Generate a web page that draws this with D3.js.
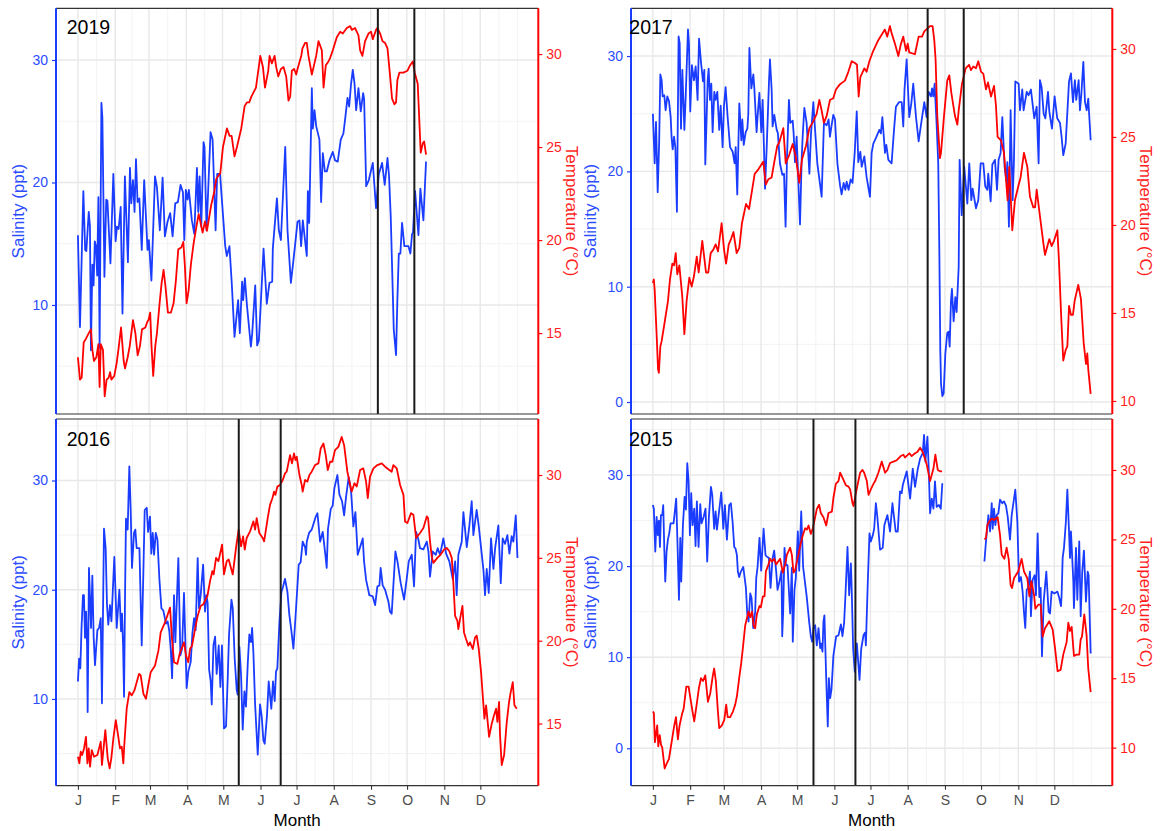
<!DOCTYPE html>
<html>
<head>
<meta charset="utf-8">
<script src="https://cdn.jsdelivr.net/npm/d3@7"></script>
<style>
  body { margin: 0; background: #fff; }
  text { font-family: "Liberation Sans", Arial, Helvetica, sans-serif; }
</style>
</head>
<body>
<svg id="chart" width="1161" height="831"></svg>
<script>
// ---- data: [day of year (0 = Jan 1), value]; null marks a logging gap ----
const monthLabels = ["J","F","M","A","M","J","J","A","S","O","N","D"];
const salinityTicks = [0, 10, 20, 30];
const temperatureTicks = [10, 15, 20, 25, 30];

const sal2019 = [[0,15.7],[1.7,8.2],[4.5,19.3],[6,14.5],[7,14.4],[9,17.6],[10,16.4],[10.8,6.3],[12,13.3],[13,11.6],[14,15.2],[15,14.8],[16,12.4],[17,18.8],[18,6.5],[19.5,26.5],[20.3,25.3],[22,12.3],[23.5,18.6],[24.5,18.5],[27,13.4],[29.4,20.7],[31.3,15.2],[32.4,16.4],[33.8,16.2],[35.5,18.0],[37,9.3],[39,20.5],[41.5,13.5],[43.2,21.2],[44.3,18.3],[45.7,20.2],[47,17.6],[48.2,21.9],[49.5,18.4],[51,18.7],[53,14.5],[55,20.2],[57.8,14.5],[58.9,15.3],[61,12.0],[64,20.5],[65.6,19.6],[68,16.1],[70.3,20.4],[72.2,15.6],[74.4,16.8],[76.6,17.5],[78.6,15.6],[80.8,18.3],[83,18.4],[85.2,19.8],[87.2,19.2],[88.3,15.3],[89.6,19.4],[91,18.6],[92.1,19.4],[94.6,16.9],[96.6,15.8],[98.8,21.2],[99.9,17.6],[101,20.5],[102.4,16.4],[104.3,23.3],[105.1,22.9],[106.8,16.1],[110.1,24.1],[111.8,23.5],[114.3,16.1],[115.6,20.7],[118,20.7],[119.5,18.6],[122.3,14.8],[123.6,14.0],[125.8,14.8],[127.7,11.8],[130,7.4],[133,10.4],[134.4,7.7],[136.3,11.9],[137.2,10.4],[138.6,12.2],[140.3,10.0],[143.6,6.6],[144.7,7.7],[147.2,11.6],[148.8,6.7],[150.2,7.1],[151.6,9.7],[154.1,14.6],[156.8,10.1],[159,11.8],[161.3,11.9],[161.8,14.6],[165.2,18.7],[166.8,16.1],[168.5,15.3],[172.1,22.9],[174,16.1],[176.8,11.8],[178.4,13.2],[180.3,14.9],[182.3,16.8],[183.9,16.9],[185.3,14.8],[186.7,16.9],[190,14.0],[190.9,19.3],[192,16.7],[194.2,27.7],[195,24.4],[196.4,25.9],[197.8,24.6],[200.5,23.5],[201.9,18.4],[203.3,22.4],[205,20.9],[206.6,20.9],[208.8,21.8],[211.6,22.5],[213.5,21.8],[215.7,21.7],[218.2,23.5],[220.4,24.0],[222.1,25.4],[223.8,26.9],[225.2,26.2],[226.8,28.1],[228.2,29.2],[229.6,28.1],[231,25.9],[232.9,27.7],[234.8,25.8],[236.8,27.3],[237.6,26.8],[239.3,19.7],[241.5,20.2],[244.8,21.6],[245.9,20.1],[247.5,17.9],[249.8,20.7],[252.5,21.6],[254.7,19.8],[257,22.0],[258.3,20.5],[259.7,17.2],[262.2,8.0],[264.1,5.9],[265.2,10.4],[266.4,14.2],[267.7,14.2],[269.1,16.7],[271,14.8],[274.4,14.8],[276,14.2],[277.4,15.8],[278.2,15.9],[279.9,19.3],[282.7,15.7],[284.3,19.5],[286.8,16.9],[289,21.7]];

const temp2019 = [[0,13.7],[1.7,12.5],[3.1,12.6],[4.8,14.5],[6.7,14.7],[9,15.0],[10.8,15.2],[12,14.1],[13.3,13.5],[15.3,13.7],[17,14.4],[18,12.1],[19,14.4],[20.8,14.1],[22.2,11.6],[23.8,12.5],[25.5,12.6],[26.7,12.9],[27.8,12.5],[30.2,12.7],[32.2,13.4],[33.8,14.2],[35.8,15.3],[38,13.5],[39.1,13.1],[41.3,13.7],[43,14.3],[45.7,15.7],[47.7,15.0],[49.6,13.8],[51.5,14.3],[53.2,15.2],[56,15.3],[57.5,15.6],[58.6,15.7],[60,16.1],[61.1,14.3],[62.5,12.7],[64.2,14.3],[65.6,15.0],[67.8,16.6],[69.5,17.7],[71.1,18.4],[72.7,17.5],[74.7,16.1],[77.2,16.1],[79.4,16.6],[81.3,17.8],[83.3,19.5],[85.8,19.6],[87.5,19.9],[88.8,18.6],[90.2,16.6],[91.9,17.3],[93.8,18.7],[96,19.8],[98.3,20.7],[100.2,21.4],[101.6,21.0],[103.5,20.4],[105.5,21.0],[107.1,20.5],[110.7,21.9],[113.2,22.6],[114.9,23.3],[118.2,23.6],[120.4,25.0],[123.7,26.0],[125.9,25.6],[127.6,25.6],[130,24.5],[132,25.0],[135.6,26.0],[138.4,27.2],[140.3,27.4],[142.2,27.4],[143.9,27.7],[147.8,28.2],[151.4,29.9],[153.6,29.3],[155.3,28.2],[158,29.1],[159.1,29.9],[161,29.5],[163.3,29.9],[164.6,29.3],[166.3,28.8],[168.5,29.2],[170.7,29.3],[172.9,28.8],[174.8,27.5],[176.2,27.7],[177.6,29.1],[179.5,29.2],[181.2,28.9],[182.3,29.2],[184.5,29.7],[185.4,29.9],[186.4,30.3],[188.6,30.6],[190,30.6],[191.4,29.9],[194.2,28.9],[197.8,29.9],[199.7,30.7],[202.5,30.2],[203.9,28.2],[205.8,29.4],[208,29.6],[209.4,29.8],[211.6,30.2],[214.9,30.9],[217.7,31.2],[219.9,31.1],[223.2,31.4],[226,31.5],[227.4,31.3],[230.1,31.4],[232.9,31.0],[234.3,30.2],[236.2,29.9],[238.4,30.7],[241.2,31.1],[243.4,31.2],[244.8,30.8],[247.5,31.3],[248.6,31.4],[250.9,31.1],[252.8,30.7],[255,30.6],[257,30.3],[258.9,29.0],[260.8,27.6],[262.8,27.3],[264.1,27.4],[265.2,28.6],[266.9,29.0],[270.2,29.0],[273.5,29.1],[275.8,29.4],[278,29.6],[279.6,29.0],[282.1,28.4],[283.5,26.3],[284.6,24.7],[286.3,25.2],[287.4,25.3],[289,24.6]];

const sal2017 = [[0,25.0],[1.5,20.7],[2.6,24.3],[3.5,20.4],[4,18.2],[5.2,22.4],[6.2,28.4],[7.3,27.9],[8.1,26.5],[9.5,26.6],[10.6,25.3],[12,26.5],[13.4,26.1],[14.8,24.7],[15.6,22.9],[16.5,21.9],[17.6,23.0],[18.7,22.1],[20,16.5],[21.4,31.7],[22.3,31.1],[23.4,23.7],[24.5,28.8],[26.2,23.6],[27.3,26.5],[29.2,32.3],[30,31.1],[31.1,25.2],[32.5,29.2],[34.2,27.9],[35.6,29.1],[37.2,26.2],[38.4,31.5],[40,29.5],[41.7,27.8],[42.8,28.8],[43.6,20.6],[45.6,27.9],[46.4,28.9],[47.5,26.2],[48.6,27.6],[49.7,23.4],[51.1,26.9],[52.2,26.2],[53.6,26.9],[55.2,23.6],[56.4,25.7],[58,22.1],[59.1,25.6],[60.5,27.3],[62.2,24.7],[64.2,22.1],[66.4,21.7],[68,20.7],[68.9,22.1],[70.2,18.0],[71.9,25.9],[73.6,22.7],[74.4,24.5],[75.6,22.3],[77.2,23.4],[78.6,23.7],[79.4,25.0],[80.3,30.7],[81.9,27.2],[83.6,28.4],[84.4,27.2],[86.3,23.4],[87.2,24.9],[88.6,26.8],[90.2,23.4],[91.3,26.2],[92.4,22.1],[93.3,18.5],[94.7,22.1],[96.6,27.8],[97.4,29.7],[98.8,27.1],[99.6,23.9],[101,24.9],[103,23.6],[104,23.3],[105.7,20.7],[107.7,19.7],[109.1,19.8],[110.4,15.2],[111.6,21.3],[113.2,26.2],[114.3,24.2],[116.3,24.4],[117.1,23.3],[118.2,20.8],[119.6,23.0],[122.4,15.4],[123.8,21.1],[124.6,23.0],[126,25.5],[127.9,24.2],[130.2,19.8],[131.5,23.2],[133.5,26.0],[134.3,24.6],[136.8,20.7],[140.4,17.8],[142.3,24.2],[144.6,24.0],[146.2,24.5],[147.3,23.0],[148.7,24.0],[150.1,24.9],[151.5,24.5],[153.5,20.7],[155.7,18.8],[157,18.0],[158.7,19.0],[160.1,18.4],[161.2,19.1],[162.8,18.4],[164.5,19.3],[166.1,19.0],[167.9,21.6],[169.6,25.2],[170.9,20.8],[172.6,21.7],[173.7,20.4],[175.9,21.3],[177.8,19.5],[180.6,17.8],[182,21.6],[183.4,22.4],[185.6,22.9],[188.4,23.6],[189.7,23.3],[190.9,24.7],[193.1,21.6],[194.2,22.3],[195.9,21.0],[198.6,20.7],[200.6,23.6],[202.2,25.6],[204.7,26.0],[207,26.0],[208.3,23.9],[209.4,27.2],[211.1,29.7],[213.3,24.7],[215,25.9],[216.6,27.6],[218.9,24.7],[221.1,22.6],[223,24.0],[225.8,26.0],[227.7,24.7],[229.4,26.9],[231.4,26.5],[232.2,27.2],[233.3,26.5],[234.4,27.6],[236,24.2],[237.4,20.7],[238.3,13.2],[239.1,4.5],[239.7,1.6],[240.8,0.5],[241.9,0.75],[243.3,4.2],[244.9,6.0],[246,6.1],[246.9,4.8],[248,8.8],[248.8,9.8],[250.2,7.0],[251.6,9.1],[252.7,7.8],[254.4,11.7],[255.2,21.0],[256.9,16.2],[259,20.4],[261.6,17.2],[263.2,20.7],[264.9,17.5],[266,18.5],[268.8,16.8],[270.7,17.5],[272.7,20.7],[274.9,20.7],[276.5,18.7],[278.2,18.4],[279,19.8],[281,17.4],[282.4,20.6],[284.6,21.0],[286.3,18.4],[287.6,21.0],[289.3,21.6],[290.7,24.7],[292.6,20.4],[294,19.2],[294.9,20.8],[296.2,15.2],[297.6,25.3],[299.3,17.5],[300.4,21.0],[301.5,27.8],[304.3,27.6],[305.4,25.3],[307.3,27.1],[308.4,25.3],[311,26.9],[312.6,26.6],[314.5,27.1],[317.3,24.6],[319.3,25.6],[320.9,20.7],[322,27.9],[323.4,27.3],[325.1,25.0],[326.5,24.6],[328.7,26.9],[329.8,25.2],[332,23.7],[334.2,26.5],[336.4,24.6],[338.7,24.2],[340,23.0],[341.4,21.4],[343.4,22.4],[346.2,27.8],[347.8,28.5],[349.5,26.0],[351.1,27.9],[352.2,26.2],[354.2,27.9],[355.3,25.3],[356.4,26.6],[358.1,29.5],[359.5,26.0],[360.9,25.3],[362.2,26.3],[364.2,22.7]];

const temp2017 = [[0,16.7],[0.8,16.9],[1.5,16.3],[3.1,13.8],[4.3,11.8],[5,11.6],[6.2,13.1],[7.3,13.4],[10.1,14.6],[12.6,15.7],[14.2,16.9],[16.2,17.8],[17.6,17.7],[19,18.4],[20.3,17.2],[22,17.7],[24.5,15.9],[26.2,13.8],[28.1,15.7],[30.3,17.0],[32.3,16.5],[34.2,17.1],[36.5,18.2],[38.1,17.3],[41.1,19.1],[44.2,17.3],[46.1,17.3],[48.1,18.4],[50.3,18.6],[52.2,18.9],[54.2,18.5],[57.2,20.1],[59.2,18.6],[60.9,17.8],[63.1,18.9],[65,19.2],[67,19.6],[69.7,18.4],[71.9,18.7],[74.1,20.1],[77.5,21.2],[80,20.9],[84.7,22.9],[87.1,23.1],[91.9,23.6],[93.9,22.3],[96.1,22.6],[98.8,22.7],[100.8,23.5],[103.5,24.5],[105.2,24.7],[108.5,25.5],[110.5,23.5],[113.5,24.0],[116.3,24.6],[118.8,23.9],[121.8,22.4],[124,23.7],[127.4,24.5],[130.2,25.5],[133.5,25.9],[136.2,26.3],[138.5,27.1],[140.4,26.5],[142.3,25.8],[144.6,26.2],[147.3,27.1],[150.1,27.2],[152.3,27.7],[155.7,28.0],[159.8,28.2],[162.6,28.7],[165.4,29.3],[168.1,29.2],[169.8,29.1],[171.2,27.3],[172.6,28.4],[175.9,28.9],[177.8,28.7],[180.1,29.3],[182.8,29.8],[184.8,30.1],[187.5,30.5],[193,31.1],[195,30.7],[197.2,31.3],[198.6,30.9],[201.4,30.3],[204.2,29.6],[206.4,30.3],[208.3,30.7],[210.6,29.9],[212,30.3],[213.3,29.8],[218,29.7],[221.1,30.7],[223.9,30.7],[225.8,31.0],[230.5,31.3],[232.7,31.3],[234.1,30.5],[235.2,29.4],[236.6,26.2],[238.8,23.8],[239.7,24.1],[242.2,26.2],[244.9,28.2],[246.6,28.5],[248.3,27.5],[251.3,26.2],[253.3,25.7],[254.4,26.5],[257.1,28.0],[260.2,28.9],[263,29.1],[264.6,28.8],[266.6,29.0],[268.8,28.9],[270.7,29.3],[273,28.7],[274.9,28.6],[277.1,27.7],[278.8,28.1],[281.3,27.3],[283.8,27.9],[285.4,26.8],[286.8,25.0],[289.6,24.8],[292.1,24.1],[295.1,21.4],[296.5,23.3],[299,19.7],[301.2,21.4],[304,22.2],[305.9,22.7],[308.7,24.1],[311.5,23.3],[313.7,21.6],[316.5,21.0],[317.9,21.0],[319.3,22.0],[322,20.5],[324.8,19.0],[326.2,18.3],[329.8,19.2],[331.7,18.8],[333.7,19.1],[336.5,19.7],[337.8,18.0],[339.8,14.6],[341.4,12.3],[343.4,12.9],[344.8,13.1],[346.2,15.4],[347.8,14.9],[349.5,14.9],[350.9,15.7],[353.9,16.6],[356.1,15.8],[358.4,13.3],[360.3,12.1],[361.4,12.7],[362.2,11.8],[364.2,10.4]];

const sal2016 = [[0,11.6],[1,13.7],[2,12.8],[3,16.5],[4.2,19.5],[5,19.5],[5.9,15.6],[6.8,18.0],[7.6,14.9],[8.1,8.8],[9.2,22.0],[10.9,16.5],[12,21.3],[13.1,15.7],[14.2,13.1],[16.2,16.3],[17.6,16.5],[19,17.4],[20,9.6],[21.7,25.6],[23.1,23.8],[24.2,18.6],[25.3,16.8],[26.7,18.6],[27.9,17.1],[30.3,23.0],[32.3,16.5],[34.5,20.0],[35.9,16.2],[36.7,17.8],[37.6,14.9],[38.4,10.2],[39.2,19.2],[40,26.5],[41.4,25.5],[42.8,31.3],[43.9,27.4],[45,22.0],[46.7,25.2],[47.8,25.5],[48.9,23.8],[51.2,23.8],[53.1,14.9],[54.5,21.7],[55.6,27.3],[57.3,27.5],[58.4,25.3],[60,26.7],[61.1,23.3],[62.3,25.2],[63.4,23.2],[64.8,25.2],[66.2,24.6],[67.8,21.0],[69.5,18.3],[71.1,18.1],[73.3,16.9],[74.7,17.1],[76.1,16.2],[77.3,14.5],[78.4,11.9],[80,19.5],[81.1,15.2],[83.6,22.9],[85.3,14.0],[86.7,14.6],[88.3,19.7],[90.5,11.0],[91.9,12.5],[93.9,13.4],[95.3,16.0],[96.7,17.4],[98,16.3],[99.7,22.9],[100.8,18.3],[102.2,19.5],[104.2,22.3],[105.8,18.0],[106.9,19.5],[108,18.8],[109.2,12.7],[110.5,11.6],[111.4,9.5],[112.8,14.9],[114.2,15.7],[115.5,12.3],[117.2,14.9],[118.6,11.1],[119.9,14.9],[121.6,7.3],[123.3,7.5],[124.7,11.9],[125.8,15.9],[127.8,19.1],[128.9,18.3],[130.5,13.7],[132.2,10.8],[133,10.4],[134.4,14.8],[135.8,12.2],[137.2,7.2],[138.6,10.7],[139.9,9.3],[141.4,13.3],[142.7,15.9],[144.1,15.2],[145,16.5],[146.1,14.2],[147.5,9.5],[149.7,4.9],[151.6,9.5],[153,8.4],[154.4,6.2],[155.5,5.9],[157.4,8.5],[158.8,11.6],[159.9,10.4],[161,9.1],[162.4,11.6],[163.8,9.8],[164.9,12.5],[166,12.8],[167.7,16.9],[169.4,19.8],[170.8,20.3],[172.4,21.0],[174.4,19.8],[176,17.7],[177.4,16.5],[179.4,14.6],[181.6,18.3],[183.8,22.3],[185.4,22.5],[187.1,24.4],[189.1,23.9],[189.9,23.2],[190.5,24.4],[192.4,25.2],[194.6,25.5],[198,26.7],[199.4,27.0],[201.6,24.4],[203.8,25.3],[206,23.2],[207.1,22.0],[208.2,25.6],[210.5,27.4],[212.1,27.7],[213.5,29.3],[216,30.5],[217.7,28.7],[219.9,28.1],[221.6,26.8],[223.2,28.5],[225.4,30.3],[227.4,29.0],[229.3,25.8],[231,27.1],[232.9,23.2],[234.9,23.9],[237.1,24.7],[238.2,22.6],[239.9,20.9],[242.6,19.5],[245.4,19.4],[247.4,18.6],[249.3,20.3],[251,20.4],[252,22.0],[253.7,20.4],[255.7,20.0],[258.5,18.9],[259.8,18.0],[261.2,17.8],[262.6,20.4],[264.3,23.5],[266,22.6],[268.7,20.6],[271.5,19.1],[273.7,21.0],[275.4,22.6],[277.9,23.2],[279.8,20.3],[281.5,25.3],[283.4,24.6],[284.8,23.8],[287.6,23.7],[290.4,24.4],[291.8,23.5],[293.1,21.2],[295.4,23.5],[297.9,23.2],[299.5,23.8],[301.5,23.2],[304.2,24.7],[306.5,23.3],[309.2,22.6],[312,21.0],[314,22.6],[315.3,19.5],[316.7,23.2],[319.5,24.4],[320.9,27.1],[323.7,23.9],[325.9,25.9],[327.8,28.1],[329.2,25.0],[331.9,27.3],[333.7,25.8],[337.6,21.8],[338.9,19.5],[340.3,21.9],[342,19.7],[343.9,24.7],[345.9,21.9],[347.3,23.8],[350,25.9],[352,20.6],[353.6,24.7],[355.6,24.2],[357.5,25.0],[359.2,23.3],[361.1,24.9],[362.5,24.4],[364.5,26.8],[365.9,22.9]];

const temp2016 = [[0,13.0],[1.2,12.6],[2.3,13.3],[3.5,13.1],[5.1,13.5],[6.7,14.2],[7.9,12.6],[9,13.5],[10.1,12.4],[11.5,13.4],[13.4,13.0],[16.2,13.1],[19,13.9],[20,12.5],[22.8,14.6],[24.8,12.9],[26.4,12.3],[27.8,12.9],[29.5,14.1],[31.5,15.2],[33.4,14.3],[35,13.5],[36.5,13.6],[37.8,12.6],[38.6,13.7],[40.6,15.9],[42.8,16.9],[44.8,16.7],[47,17.0],[50.9,18.0],[52.3,17.9],[54.5,16.8],[56.7,16.5],[59,17.5],[60.6,18.1],[64.2,18.5],[67,19.4],[68.9,20.5],[72.5,21.1],[73.9,21.4],[76.7,22.0],[78.1,20.3],[80,18.7],[82.8,18.6],[85,19.3],[86.7,19.6],[88.3,19.9],[90,19.1],[91.9,18.7],[93.3,19.5],[95,19.7],[97.5,20.7],[99.7,21.5],[102.2,22.1],[104.4,22.2],[107.8,22.7],[110,23.6],[111.9,24.2],[113,24.0],[115,25.0],[117,24.8],[120,25.8],[121.6,24.0],[123.9,24.8],[125.5,24.9],[128.9,24.0],[131.6,25.6],[133.8,26.7],[135.8,25.7],[137.5,26.3],[138.9,25.5],[140.5,26.2],[143.3,26.6],[146.1,27.2],[147.5,26.7],[148.8,27.4],[151,26.5],[153.8,26.2],[155,26.0],[158,27.4],[159.9,28.2],[161.9,28.6],[163.3,29.0],[164.4,28.8],[166,29.3],[168.3,29.4],[170.5,29.7],[172.4,30.1],[173.8,30.2],[175.2,30.7],[176.6,31.2],[178.2,30.7],[179.9,31.3],[181.1,30.9],[182.2,31.1],[184.4,30.0],[186.3,29.4],[187.1,29.0],[189.1,29.7],[191,29.6],[192.7,30.0],[194.6,30.2],[197.4,30.6],[200.2,30.7],[202.1,31.6],[204.4,31.9],[206.3,31.2],[208,30.3],[209.9,30.8],[211.8,30.8],[214,31.5],[216.8,31.7],[219.6,32.3],[221.6,31.8],[224.3,30.2],[227.9,29.0],[230.2,29.5],[232.1,29.3],[234.9,30.3],[237.6,30.4],[239.9,29.6],[241.3,28.6],[243.2,29.9],[246,30.4],[249.3,30.6],[252.9,30.7],[255.7,30.5],[259.3,30.3],[261.2,30.2],[262.6,30.6],[265.4,30.4],[268.2,29.4],[271,28.8],[272.3,27.2],[274.3,27.1],[277.3,27.7],[279.3,27.6],[281.5,26.2],[284.8,26.5],[287.6,26.8],[290.4,27.5],[291.5,27.4],[293.1,26.0],[294.5,25.1],[295.9,24.7],[299.2,25.0],[302,25.2],[304.8,25.5],[307,25.6],[309.2,25.4],[311.2,25.0],[312.6,23.4],[314,21.5],[315.9,21.2],[316.7,20.7],[318.1,21.3],[320.1,22.1],[321.4,20.5],[323.1,20.1],[325,19.7],[326.4,19.9],[328.7,19.5],[330.6,20.2],[332,20.3],[333.7,19.5],[335.6,18.1],[338.4,15.3],[339.8,16.1],[342.3,14.2],[344.5,15.0],[346.4,15.5],[348.1,15.9],[349.2,15.1],[350.6,16.3],[351.4,14.3],[352.8,12.5],[354.8,13.1],[357,15.1],[358.9,16.3],[360.3,16.9],[362,17.5],[363.4,16.1],[365.3,15.9]];

const sal2015 = [[0,26.7],[0.8,26.3],[2,21.6],[3.1,25.4],[4.2,23.4],[5,25.0],[5.9,22.1],[6.7,25.6],[7.8,25.6],[8.6,26.7],[9.5,21.9],[10.3,18.3],[11.4,21.6],[12.5,22.9],[13.6,23.6],[14.7,24.7],[17.2,24.7],[19.4,27.4],[20.6,21.9],[21.7,16.3],[22.8,23.1],[23.6,18.3],[25,24.5],[26.4,27.6],[27.5,26.2],[28.6,31.3],[29.7,29.3],[30.8,23.4],[31.9,28.0],[33,24.5],[34.4,26.3],[35.5,22.2],[36.6,27.1],[38,22.1],[39.4,26.8],[40.5,24.7],[42.2,25.4],[43.8,26.3],[45.2,20.5],[46.6,25.4],[48.3,28.7],[49.4,27.8],[51,24.1],[52.2,26.0],[53.3,24.0],[56.9,28.1],[58.6,24.1],[59.9,26.7],[61.6,22.9],[63.5,26.7],[64.9,26.9],[66.3,24.9],[67.7,22.1],[68.8,21.9],[69.9,21.2],[70.7,19.4],[71.8,18.8],[73.2,19.4],[75.2,19.9],[77.4,17.6],[78.5,14.8],[79.6,13.9],[81,17.0],[82.1,16.5],[83.5,13.2],[85.1,15.0],[86,18.7],[87.1,19.9],[88.7,23.1],[90.1,19.5],[92.1,24.1],[93.7,21.2],[95.1,21.0],[96.5,20.9],[97.9,17.6],[99.5,20.8],[100.9,21.7],[102.6,19.4],[103.7,17.4],[105.3,18.3],[107,19.5],[107.6,12.3],[108.4,15.0],[109.5,22.0],[110.6,20.1],[112,20.1],[114.2,14.8],[115.6,19.8],[116.4,11.7],[117.8,17.4],[118.9,18.7],[120.6,23.8],[121.7,19.5],[123.4,26.0],[125,19.9],[128.1,16.5],[130,13.9],[131.4,12.3],[132.5,11.7],[133.6,13.2],[135,13.5],[136.4,11.3],[137.8,13.2],[139.2,11.0],[140,11.5],[141.1,10.6],[141.9,13.9],[142.7,14.6],[144.2,7.7],[145.5,2.4],[146.4,7.7],[147.5,5.5],[148.6,6.5],[150.2,10.2],[152.5,12.3],[154.4,12.4],[156.4,13.6],[157.7,12.3],[159.1,13.8],[160.2,16.8],[161.9,22.1],[163.3,16.8],[164.7,20.3],[165.5,17.0],[166.6,11.0],[168,8.4],[169.7,11.5],[171.9,7.5],[173.3,10.9],[175.2,12.4],[176.6,12.7],[177.2,11.3],[178.8,18.3],[180.2,23.6],[181.3,22.7],[183,23.4],[184.1,24.1],[185.5,26.9],[186.6,25.6],[189,21.8],[191.2,22.0],[192.6,24.5],[195.1,25.6],[197.3,23.8],[199.3,26.9],[202,23.8],[203.7,23.8],[205.6,28.2],[207,28.0],[207.9,28.9],[211.2,30.4],[214,27.4],[216.2,30.7],[218.1,28.7],[220.3,30.6],[222.3,31.8],[224.5,32.4],[225.6,34.4],[226.7,31.5],[228.4,34.2],[229.5,30.6],[230.6,25.8],[232,27.4],[233.4,26.3],[234.7,29.3],[236.1,26.5],[238,26.7],[239.5,26.3],[240.8,29.1],[258,null],[275.8,20.5],[277.1,22.7],[279.1,25.6],[280.5,23.8],[281.9,26.9],[282.7,24.1],[283.8,26.3],[284.9,24.5],[286,25.6],[287.4,25.8],[288.8,27.3],[290.7,26.9],[292.1,27.1],[293.8,26.6],[295.2,25.4],[297.1,22.9],[298.5,25.6],[301.5,28.4],[303.2,24.9],[304.6,18.3],[306.2,18.8],[307.6,17.2],[308.7,15.0],[309.8,13.2],[311,17.4],[312.1,17.6],[313.7,19.4],[314.5,14.5],[315.9,18.5],[317.6,19.0],[318.7,16.8],[320.1,23.6],[321.5,16.6],[322.6,17.6],[323.7,10.1],[325.1,16.1],[327.3,19.4],[329.2,15.0],[330.4,14.8],[331.7,17.2],[334,17.0],[336.5,17.2],[338.1,16.5],[339.5,15.6],[340,16.7],[340.9,20.9],[342,22.0],[343.6,24.9],[344.8,28.4],[346.1,24.1],[347,20.9],[347.8,23.8],[349.8,18.3],[350.3,15.4],[352,22.0],[353.1,16.3],[354.7,22.7],[355.9,14.5],[357.2,19.4],[358.6,21.7],[360.3,16.1],[361.7,19.4],[362.5,19.0],[364.2,10.4]];

const temp2015 = [[0,12.6],[0.8,12.5],[1.7,10.4],[3.6,11.6],[4.5,10.1],[5.7,10.9],[6.8,10.2],[7.8,10.0],[9.8,8.5],[11.2,8.8],[13.4,9.2],[15.6,10.4],[17.8,11.6],[19.2,12.2],[20.8,10.6],[22.2,11.6],[24.2,12.4],[25.6,12.8],[27.8,14.4],[29.7,14.4],[31.7,13.3],[33,12.6],[34.4,11.9],[36.6,13.2],[38.3,14.3],[40,15.0],[41.7,14.8],[43.6,15.2],[45.8,13.3],[47.7,13.9],[49.9,15.2],[51,15.7],[52.4,14.8],[54.1,12.6],[55.2,11.4],[57.4,11.6],[59.4,12.0],[61,13.1],[62.2,12.2],[64.3,12.2],[66.6,12.6],[68.5,13.1],[69.9,13.7],[71.8,15.0],[73.5,16.1],[74.9,17.2],[76.8,18.8],[78.2,19.3],[79.6,19.8],[81,19.4],[82.4,19.8],[83.8,18.8],[85.1,18.6],[86.5,19.6],[88.7,20.2],[89.8,20.1],[91.5,20.9],[92.9,20.9],[94,22.7],[96.2,23.2],[97.6,23.6],[99,23.4],[100.9,23.6],[102.6,23.2],[104.2,23.4],[105.9,23.6],[108.1,22.6],[110.1,23.2],[111.5,23.9],[114.2,24.4],[115.6,23.9],[117,22.6],[118.4,22.8],[120.3,23.6],[122.5,24.5],[124.7,25.3],[126.7,25.8],[128.1,25.7],[129.5,26.0],[131.4,25.4],[133.1,25.8],[135,26.6],[136.4,27.2],[138.3,27.5],[139.7,26.9],[141.9,26.6],[144.2,26.0],[146.1,26.9],[148.9,27.0],[150.2,28.0],[152.2,29.0],[154.4,29.2],[155.8,29.8],[158,29.4],[160.5,28.9],[162.7,28.8],[164.1,28.6],[166.1,27.6],[166.9,27.4],[168.8,28.3],[170.2,28.9],[172.4,29.8],[174.4,30.0],[175.8,29.8],[178,29.2],[179.4,28.2],[181.3,28.6],[183.5,29.0],[184.9,29.2],[187.6,29.8],[190.4,30.6],[193.2,29.8],[195.1,30.0],[197.3,30.5],[200.1,30.6],[202.9,30.7],[206.2,31.0],[208.4,31.1],[209.8,30.9],[213.4,31.2],[215.3,31.0],[218.1,31.2],[220,31.3],[222.3,31.6],[224.5,31.3],[226,30.9],[227.8,30.4],[230.6,29.2],[233.4,30.1],[235,31.1],[237,30.0],[238.9,29.9],[240.6,29.9],[258,null],[275.8,25.0],[277.1,25.1],[278.2,26.0],[279.9,26.3],[281.9,26.5],[283.8,26.4],[286.8,26.6],[288.8,25.3],[290.2,23.9],[292.4,23.6],[294.3,24.4],[296,23.6],[297.6,21.7],[298.8,21.5],[300.4,22.2],[304,22.7],[306.8,23.6],[308.7,22.7],[311.5,22.2],[313.2,20.9],[314.8,22.0],[317.1,21.0],[318.2,20.0],[320.6,20.3],[322.6,20.3],[324.3,18.0],[326.2,18.6],[329.8,19.1],[332.6,18.5],[334.5,17.2],[336.7,15.5],[339.2,15.6],[341.4,16.7],[344.2,17.6],[345.6,19.0],[347,18.4],[348.4,18.7],[350.3,16.6],[352.5,16.7],[354.7,16.7],[355.9,17.8],[357,18.0],[358.9,19.6],[360.8,18.1],[362.2,15.7],[364.2,14.0]];

// vertical reference lines (day of year)
const events2019 = [249, 279.3];
const events2017 = [228.6, 258.6];
const events2016 = [133.9, 168.8];
const events2015 = [133.6, 168.5];

// axis limits of each panel (salinity on the left, temperature on the right)
const salLimits2019 = [1.1, 34.22],  tempLimits2019 = [10.65, 32.46];
const salLimits2017 = [-1.04, 34.14], tempLimits2017 = [9.26, 32.31];
const salLimits2016 = [2.06, 35.63], tempLimits2016 = [11.25, 33.38];
const salLimits2015 = [-4.11, 36.15], tempLimits2015 = [7.26, 33.67];

// ---- layout ----
const BLUE = "#1a3cff", BLUE_TXT = "#2b4cff", RED = "#ff0000", RED_TXT = "#ff1f1f";
const FONT_TICK = 14, FONT_TITLE = 17, FONT_YEAR = 19.5;

const panels = [
  { year: 2019, sal: sal2019, temp: temp2019, events: events2019, salLim: salLimits2019, tempLim: tempLimits2019,
    l: 56, r: 538.3, t: 8.3, b: 414, xAxis: false, tagX: 66.7, tagY: 34.3, salTitleX: 17.6, tempTitleX: 571.5 },
  { year: 2017, sal: sal2017, temp: temp2017, events: events2017, salLim: salLimits2017, tempLim: tempLimits2017,
    l: 631, r: 1112.3, t: 8.3, b: 414, xAxis: false, tagX: 629.3, tagY: 34.3, salTitleX: 590, tempTitleX: 1145.5 },
  { year: 2016, sal: sal2016, temp: temp2016, events: events2016, salLim: salLimits2016, tempLim: tempLimits2016,
    l: 56, r: 538.3, t: 419, b: 785.7, xAxis: true, tagX: 66.7, tagY: 445.7, salTitleX: 17.6, tempTitleX: 571.5 },
  { year: 2015, sal: sal2015, temp: temp2015, events: events2015, salLim: salLimits2015, tempLim: tempLimits2015,
    l: 631, r: 1112.3, t: 419, b: 785.7, xAxis: true, tagX: 629.3, tagY: 445.7, salTitleX: 590, tempTitleX: 1146 }
];

const svg = d3.select("#chart");
svg.append("rect").attr("width", 1161).attr("height", 831).attr("fill", "#fff");

const dayToDate = (year, d) => new Date(Date.UTC(year, 0, 1) + d * 864e5);

panels.forEach(p => {
  const start = new Date(Date.UTC(p.year, 0, 1));
  const end = new Date(Date.UTC(p.year, 11, 31));
  const span = end - start;
  const x = d3.scaleUtc()
    .domain([new Date(+start - 0.05 * span), new Date(+end + 0.05 * span)])
    .range([p.l, p.r]);
  const ySal = d3.scaleLinear().domain(p.salLim).range([p.b, p.t]);
  const yTemp = d3.scaleLinear().domain(p.tempLim).range([p.b, p.t]);

  const g = svg.append("g");
  const inX = v => v >= x.domain()[0] && v <= x.domain()[1];
  const inS = v => v >= p.salLim[0] && v <= p.salLim[1];

  // --- grid ---
  const monthStarts = d3.utcMonths(start, new Date(Date.UTC(p.year + 1, 0, 1)));
  const extended = [d3.utcMonth.offset(start, -1), ...monthStarts, new Date(Date.UTC(p.year + 1, 0, 1))];
  const minorX = [];
  for (let i = 0; i < extended.length - 1; i++) {
    minorX.push(new Date((+extended[i] + +extended[i + 1]) / 2));
  }
  minorX.push(extended[extended.length - 1]);
  const minorY = [-5, 5, 15, 25, 35];

  const grid = g.append("g");
  grid.selectAll(".mx").data(minorX.filter(inX)).join("line")
    .attr("x1", d => x(d)).attr("x2", d => x(d)).attr("y1", p.t).attr("y2", p.b)
    .attr("stroke", "#f0f0f0").attr("stroke-width", 0.8);
  grid.selectAll(".my").data(minorY.filter(inS)).join("line")
    .attr("x1", p.l).attr("x2", p.r).attr("y1", d => ySal(d)).attr("y2", d => ySal(d))
    .attr("stroke", "#f0f0f0").attr("stroke-width", 0.8);
  grid.selectAll(".Mx").data(monthStarts).join("line")
    .attr("x1", d => x(d)).attr("x2", d => x(d)).attr("y1", p.t).attr("y2", p.b)
    .attr("stroke", "#e8e8e8").attr("stroke-width", 1.4);
  grid.selectAll(".My").data(salinityTicks.filter(inS)).join("line")
    .attr("x1", p.l).attr("x2", p.r).attr("y1", d => ySal(d)).attr("y2", d => ySal(d))
    .attr("stroke", "#e8e8e8").attr("stroke-width", 1.4);

  // --- series ---
  const salLine = d3.line().defined(d => d[1] != null)
    .x(d => x(dayToDate(p.year, d[0]))).y(d => ySal(d[1]));
  const tempLine = d3.line().defined(d => d[1] != null)
    .x(d => x(dayToDate(p.year, d[0]))).y(d => yTemp(d[1]));

  g.append("path").datum(p.sal).attr("d", salLine)
    .attr("fill", "none").attr("stroke", BLUE).attr("stroke-width", 1.8).attr("stroke-linejoin", "round");
  g.append("path").datum(p.temp).attr("d", tempLine)
    .attr("fill", "none").attr("stroke", RED).attr("stroke-width", 1.8).attr("stroke-linejoin", "round");

  // --- reference lines ---
  g.selectAll(".ev").data(p.events).join("line")
    .attr("x1", d => x(dayToDate(p.year, d))).attr("x2", d => x(dayToDate(p.year, d)))
    .attr("y1", p.t).attr("y2", p.b)
    .attr("stroke", "#1a1a1a").attr("stroke-width", 2);

  // --- frame ---
  g.append("line").attr("x1", p.l).attr("x2", p.r).attr("y1", p.t).attr("y2", p.t)
    .attr("stroke", "#333").attr("stroke-width", 1.2);
  g.append("line").attr("x1", p.l).attr("x2", p.r).attr("y1", p.b).attr("y2", p.b)
    .attr("stroke", "#333").attr("stroke-width", 1.2);

  // left salinity axis
  const leftAxis = d3.axisLeft(ySal).tickValues(salinityTicks.filter(inS)).tickSize(4).tickPadding(4);
  const la = g.append("g").attr("transform", `translate(${p.l},0)`).call(leftAxis);
  la.select(".domain").attr("d", `M0,${p.t}V${p.b}`).attr("stroke", BLUE).attr("stroke-width", 2);
  la.selectAll(".tick line").attr("stroke", BLUE).attr("stroke-width", 1.2);
  la.selectAll(".tick text").attr("fill", BLUE_TXT).attr("font-size", FONT_TICK)
    .attr("font-family", "Liberation Sans, Arial, sans-serif");

  // right temperature axis
  const rightAxis = d3.axisRight(yTemp)
    .tickValues(temperatureTicks.filter(v => v >= p.tempLim[0] && v <= p.tempLim[1]))
    .tickSize(4).tickPadding(4);
  const ra = g.append("g").attr("transform", `translate(${p.r},0)`).call(rightAxis);
  ra.select(".domain").attr("d", `M0,${p.t}V${p.b}`).attr("stroke", RED).attr("stroke-width", 2);
  ra.selectAll(".tick line").attr("stroke", RED).attr("stroke-width", 1.2);
  ra.selectAll(".tick text").attr("fill", RED_TXT).attr("font-size", FONT_TICK)
    .attr("font-family", "Liberation Sans, Arial, sans-serif");

  // bottom month axis
  if (p.xAxis) {
    const bottomAxis = d3.axisBottom(x).tickValues(monthStarts)
      .tickFormat((d, i) => monthLabels[i]).tickSize(4).tickPadding(5);
    const ba = g.append("g").attr("transform", `translate(0,${p.b})`).call(bottomAxis);
    ba.select(".domain").remove();
    ba.selectAll(".tick line").attr("stroke", "#333").attr("stroke-width", 1.1);
    ba.selectAll(".tick text").attr("fill", "#4d4d4d").attr("font-size", FONT_TICK)
      .attr("font-family", "Liberation Sans, Arial, sans-serif");
    g.append("text").attr("x", (p.l + p.r) / 2).attr("y", 826)
      .attr("text-anchor", "middle").attr("font-size", FONT_TITLE).attr("fill", "#000")
      .text("Month");
  }

  // axis titles
  const midY = (p.t + p.b) / 2;
  g.append("text").attr("transform", `translate(${p.salTitleX},${midY}) rotate(-90)`)
    .attr("text-anchor", "middle").attr("dy", "0.35em")
    .attr("font-size", FONT_TITLE).attr("fill", BLUE_TXT).text("Salinity (ppt)");
  g.append("text").attr("transform", `translate(${p.tempTitleX},${midY}) rotate(90)`)
    .attr("text-anchor", "middle").attr("dy", "0.35em")
    .attr("font-size", FONT_TITLE).attr("fill", RED_TXT).text("Temperature (°C)");

  // year tag
  g.append("text").attr("x", p.tagX).attr("y", p.tagY)
    .attr("font-size", FONT_YEAR).attr("fill", "#000").text(p.year);
});
</script>
</body>
</html>
